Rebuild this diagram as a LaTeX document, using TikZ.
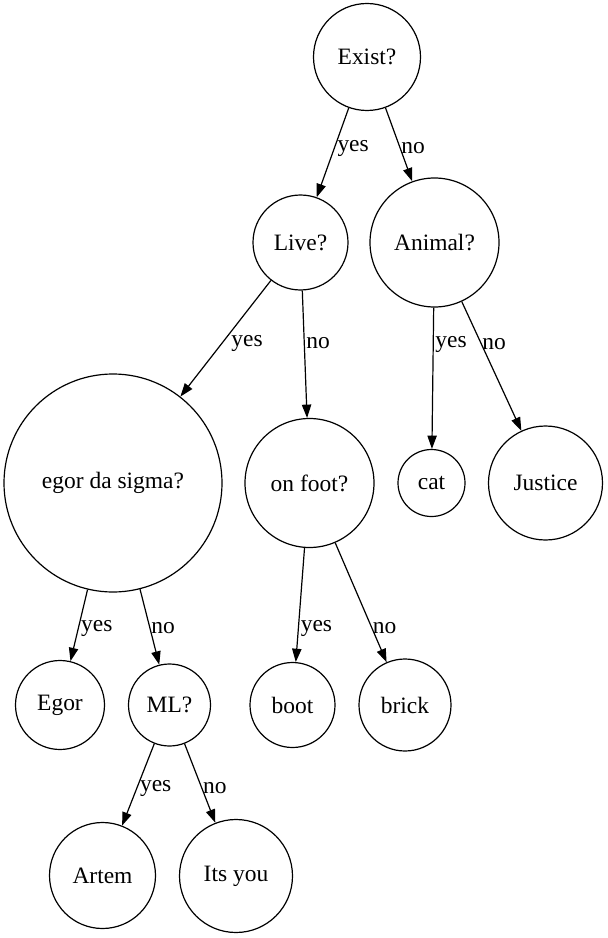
\documentclass[tikz,border=0pt]{standalone}
\usepackage{fontspec}
\setmainfont{Liberation Serif}
\usepackage{tikz}
\usetikzlibrary{arrows.meta}
\tikzstyle{question}=[circle,draw,inner sep=0pt,font=\fontsize{17.6}{20}\selectfont]
\tikzstyle{answer}=[anchor=west,inner sep=1.2pt,yshift=-2pt,font=\fontsize{17.6}{20}\selectfont]

\begin{document}
\begin{tikzpicture}[x=0.75pt,y=-0.75pt,line width=0.9pt,>={Triangle[length=10pt,width=7pt]},->]
  \useasboundingbox (0,0) rectangle (607,938);
  \node[question,minimum size=107*0.75pt] (Exist)   at (367,57)      {Exist?};
  \node[question,minimum size=95*0.75pt]  (Live)    at (300.5,242.5) {Live?};
  \node[question,minimum size=129*0.75pt] (Animal)  at (434.5,242.5) {Animal?};
  \node[question,minimum size=218*0.75pt] (Sigma)   at (113,483)     {egor da sigma?};
  \node[question,minimum size=129*0.75pt] (OnFoot)  at (309.5,483)   {on foot?};
  \node[question,minimum size=67*0.75pt]  (Cat)     at (431.5,483)   {cat};
  \node[question,minimum size=114*0.75pt] (Justice) at (545.5,483)   {Justice};
  \node[question,minimum size=89*0.75pt]  (Egor)    at (60,705)      {Egor};
  \node[question,minimum size=82*0.75pt]  (ML)      at (169.5,705)   {ML?};
  \node[question,minimum size=85*0.75pt]  (Boot)    at (292.5,705)   {boot};
  \node[question,minimum size=92*0.75pt]  (Brick)   at (405,705)     {brick};
  \node[question,minimum size=106*0.75pt] (Artem)   at (102.5,875.5) {Artem};
  \node[question,minimum size=113*0.75pt] (ItsYou)  at (236,876)     {Its you};
  % edges
  \draw (Exist)  -- (Live)    node[answer,pos=0.42] {yes};
  \draw (Exist)  -- (Animal)  node[answer,pos=0.51] {no};
  \draw (Live)   -- (Sigma)   node[answer,pos=0.52,xshift=4pt] {yes};
  \draw (Live)   -- (OnFoot)  node[answer,pos=0.39] {no};
  \draw (Animal) -- (Cat)     node[answer,pos=0.24] {yes};
  \draw (Animal) -- (Justice) node[answer,pos=0.31] {no};
  \draw (Sigma)  -- (Egor)    node[answer,pos=0.50] {yes};
  \draw (Sigma)  -- (ML)      node[answer,pos=0.48] {no};
  \draw (OnFoot) -- (Boot)    node[answer,pos=0.68] {yes};
  \draw (OnFoot) -- (Brick)   node[answer,pos=0.69] {no};
  \draw (ML)     -- (Artem)   node[answer,pos=0.51] {yes};
  \draw (ML)     -- (ItsYou)  node[answer,pos=0.53] {no};
\end{tikzpicture}
\end{document}
